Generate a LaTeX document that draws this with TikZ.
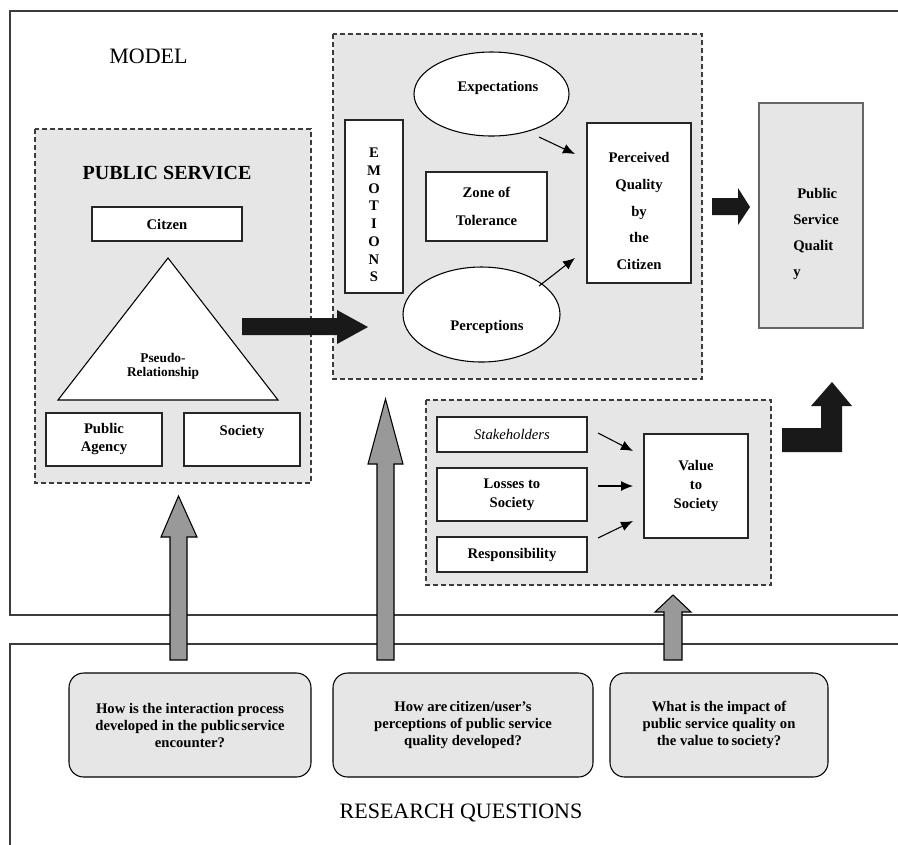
\documentclass[tikz,border=0pt]{standalone}
\usepackage{fontspec}
\setmainfont{Liberation Serif}
\usepackage{tikz}
\usetikzlibrary{shapes,arrows.meta}

\definecolor{panelgray}{RGB}{230,230,230}
\definecolor{arrowgray}{RGB}{153,153,153}
\definecolor{framegray}{RGB}{60,60,60}

\tikzset{
  outerframe/.style={draw=framegray, line width=0.9pt},
  panel/.style={draw=framegray, dash pattern={on 3.5pt off 2.5pt}, line width=0.9pt, fill=panelgray},
  whitebox/.style={draw=black!85, line width=0.8pt, fill=white, inner sep=0pt, align=center, font=\bfseries\fontsize{11}{13.5}\selectfont},
  oval/.style={ellipse, draw=black, line width=0.8pt, fill=white, inner sep=0pt},
  lbl/.style={inner sep=0pt, align=center, font=\bfseries\fontsize{11}{13.5}\selectfont},
  smallarrow/.style={-{Latex[length=9pt,width=7.5pt]}, line width=0.8pt},
  blockarrow/.style={fill=black!90, draw=none},
  greyarrow/.style={fill=arrowgray, draw=black, line width=0.8pt},
  question/.style={draw=black, line width=0.8pt, fill=panelgray, rounded corners=11pt, inner sep=0pt, align=center, font=\bfseries\fontsize{11}{12.75}\selectfont}
}

\begin{document}
\begin{tikzpicture}[x=0.75pt,y=0.75pt,yscale=-1,xscale=1]
\useasboundingbox (0,0) rectangle (898,844);

%Frames
\draw[outerframe] (905,11) -- (10,11) -- (10,615) -- (905,615);
\draw[outerframe] (905,644) -- (10,644) -- (10,850);

%Dashed panels
\draw[panel] (35,129) rectangle (311,483);
\draw[panel] (333,34) rectangle (702,379);
\draw[panel] (426,400) rectangle (771,585);

% Text Node
\node[anchor=base, inner sep=0pt, font=\fontsize{16.5}{20}\selectfont] (modeltitle) at (148.5,63) {MODEL};
\node[anchor=base, inner sep=0pt, font=\bfseries\fontsize{15}{18}\selectfont] (pstitle) at (167,179) {PUBLIC SERVICE};

%Public service
\node[whitebox, minimum width=112.5pt, minimum height=25.5pt] (citzen) at (167,224) {Citzen};
%Shape: Triangle
\draw[line width=0.8pt, fill=white] (168,258) -- (278,400) -- (58,400) -- cycle;
\node[lbl, font=\bfseries\fontsize{10}{10.5}\selectfont] (pseudo) at (163,366) {Pseudo-\\Relationship};
\node[whitebox, minimum width=87pt, minimum height=39.75pt] (agency) at (104,439.5) {Public\\Agency};
\node[whitebox, minimum width=87pt, minimum height=39.75pt] (society) at (242,439.5) {Society\\\mbox{}};

%Perception panel
\node[whitebox, minimum width=43.5pt, minimum height=129.75pt] (emotions) at (374,206.5) {};
\node[lbl, font=\bfseries\fontsize{11}{13.3}\selectfont] (emotionstxt) at (374,215) {E\\M\\O\\T\\I\\O\\N\\S};
\node[oval, minimum width=116.25pt, minimum height=63pt] (expect) at (491.5,94) {};
\node[lbl] (expecttxt) at (498,88) {Expectations};
\node[whitebox, minimum width=90.75pt, minimum height=51.75pt, font=\bfseries\fontsize{11}{21}\selectfont] (zone) at (486.5,206.5) {Zone of\\Tolerance};
\node[oval, minimum width=117.75pt, minimum height=71.25pt] (percept) at (481.5,314.5) {};
\node[lbl] (percepttxt) at (487,327) {Perceptions};
\node[whitebox, minimum width=78pt, minimum height=120pt] (perceived) at (639,203) {};
\node[lbl, font=\bfseries\fontsize{11}{19.9}\selectfont] (perceivedtxt) at (639,211) {Perceived\\Quality\\by\\the\\Citizen};

\coordinate (expfrom) at (539,137);
\coordinate (expto) at (575,154);
\coordinate (percfrom) at (539,286);
\coordinate (percto) at (575,258);
\draw[smallarrow] (expfrom) -- (expto);
\draw[smallarrow] (percfrom) -- (percto);

%Public service quality
\node[draw=black!60, fill=panelgray, line width=0.8pt, minimum width=78pt, minimum height=168.75pt] (psq) at (811,215.5) {};
\node[lbl, align=left, anchor=west, font=\bfseries\fontsize{11}{19.5}\selectfont] (psqtxt) at (793,233.5) {\hspace*{3pt}Public\\Service\\Qualit\\y};

%Value panel
\node[whitebox, font=\itshape\fontsize{11}{13.5}\selectfont, minimum width=112.5pt, minimum height=26.25pt] (stake) at (512,434.5) {Stakeholders};
\node[whitebox, font=\bfseries\fontsize{11}{14.25}\selectfont, minimum width=112.5pt, minimum height=39.75pt] (losses) at (512,494.5) {Losses to\\Society};
\node[whitebox, minimum width=112.5pt, minimum height=26.25pt] (resp) at (512,554.5) {Responsibility};
\node[whitebox, font=\bfseries\fontsize{11}{13.9}\selectfont, minimum width=78pt, minimum height=78pt] (value) at (696,486) {Value\\to\\Society};

\coordinate (stakefrom) at (598,433);
\coordinate (staketo) at (633,451);
\coordinate (lossfrom) at (598,486);
\coordinate (lossto) at (633,486);
\coordinate (respfrom) at (598,538);
\coordinate (respto) at (633,521);
\draw[smallarrow] (stakefrom) -- (staketo);
\draw[smallarrow] (lossfrom) -- (lossto);
\draw[smallarrow] (respfrom) -- (respto);

%Block arrows
\fill[blockarrow] (242,318) -- (337,318) -- (337,310) -- (368,327) -- (337,344) -- (337,335) -- (242,335) -- cycle;
\fill[blockarrow] (712,198) -- (738,198) -- (738,188) -- (750,207) -- (738,225) -- (738,215) -- (712,215) -- cycle;
\fill[blockarrow] (782,428) -- (821,428) -- (821,406) -- (811,406) -- (832,382) -- (852,406) -- (842,406) -- (842,452) -- (782,452) -- cycle;

%Grey arrows
\draw[greyarrow] (170,660) -- (170,537) -- (161,537) -- (178.5,496) -- (197,537) -- (187,537) -- (187,660) -- cycle;
\draw[greyarrow] (377,660) -- (377,464) -- (368,464) -- (385.5,399) -- (403,464) -- (394,464) -- (394,660) -- cycle;
\draw[greyarrow] (664,660) -- (664,612) -- (655,612) -- (673,595) -- (691,612) -- (682,612) -- (682,660) -- cycle;

%Research questions
\node[question, minimum width=181.5pt, minimum height=78pt] (rqone) at (190,725) {How is the interaction process\\developed in the public\hspace{0.1em}service\\encounter?};
\node[question, minimum width=195pt, minimum height=78pt] (rqtwo) at (463,725) {How are\hspace{0.15em}citizen/user’s\\perceptions of public service\\quality developed?};
\node[question, minimum width=163.5pt, minimum height=78pt] (rqthree) at (719,725) {What is the impact of\\public service quality on\\the value to\hspace{0.15em}society?};

% Text Node
\node[anchor=base, inner sep=0pt, font=\fontsize{16.5}{20}\selectfont] (rqtitle) at (461,818) {RESEARCH QUESTIONS};

\end{tikzpicture}
\end{document}
